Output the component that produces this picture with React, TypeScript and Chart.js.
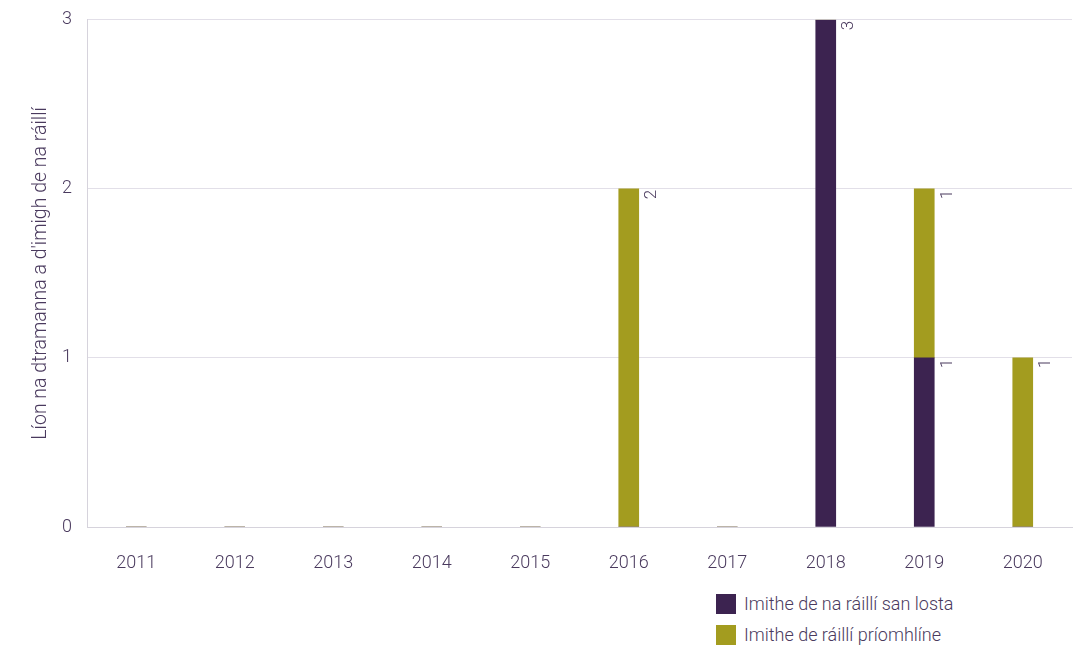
import React, { useEffect, useRef } from "react";
import { Chart, registerables } from "chart.js";

Chart.register(...registerables);

const years = ["2011", "2012", "2013", "2014", "2015", "2016", "2017", "2018", "2019", "2020"];
const sidingValues = [0, 0, 0, 0, 0, 0, 0, 3, 1, 0];
const mainlineValues = [0, 0, 0, 0, 0, 2, 0, 0, 1, 1];
const seriesNames = ["Imithe de na ráillí san losta", "Imithe de ráillí príomhlíne"];
const yTicks = [0, 1, 2, 3];
const yTitle = "Líon na dtramanna a d'imigh de na ráillí";

const PURPLE = "#3c2350";
const OLIVE = "#a39c1f";
const TEXT = "#4a3a5e";
const GRID = "#e2dfe8";
const FONT = "Roboto, 'DejaVu Sans', sans-serif";

const labelPlugin = {
  id: "rotLabels",
  afterDatasetsDraw(chart: any) {
    const ctx = chart.ctx;
    ctx.save();
    ctx.fillStyle = TEXT;
    ctx.font = `300 17px ${FONT}`;
    chart.data.datasets.forEach((ds: any, di: number) => {
      const meta = chart.getDatasetMeta(di);
      meta.data.forEach((bar: any, i: number) => {
        const v = ds.data[i];
        if (!v) return;
        const top = Math.min(bar.y, bar.base);
        const x = bar.x + bar.width / 2 + 13;
        ctx.save();
        ctx.translate(x, top + 1);
        ctx.rotate(-Math.PI / 2);
        ctx.textAlign = "right";
        ctx.textBaseline = "middle";
        ctx.fillText(String(v), 0, 0);
        ctx.restore();
      });
    });
    ctx.restore();
  },
};

function ChartBox() {
  const ref = useRef<HTMLCanvasElement | null>(null);
  useEffect(() => {
    if (!ref.current) return;
    const chart = new Chart(ref.current, {
      type: "bar",
      data: {
        labels: years,
        datasets: [
          { label: seriesNames[0], data: sidingValues, backgroundColor: PURPLE, barThickness: 20 },
          { label: seriesNames[1], data: mainlineValues, backgroundColor: OLIVE, barThickness: 20 },
        ],
      },
      options: {
        animation: false,
        responsive: false,
        maintainAspectRatio: false,
        layout: { padding: { top: 4, right: 2, left: 0, bottom: 0 } },
        plugins: { legend: { display: false }, tooltip: { enabled: false } },
        scales: {
          x: {
            stacked: true,
            grid: { display: false, drawTicks: false },
            border: { color: "#d6d3dc", width: 1 },
            ticks: { color: TEXT, font: { family: FONT, size: 18, weight: "300" }, padding: 26 },
            afterFit(scale: any) { scale.height = 53; },
          },
          y: {
            stacked: true,
            min: 0,
            max: 3,
            afterBuildTicks(scale: any) { scale.ticks = yTicks.map((v) => ({ value: v })); },
            grid: { color: GRID, drawTicks: false },
            border: { color: "#d6d3dc", width: 1 },
            ticks: { color: TEXT, font: { family: FONT, size: 18, weight: "300" }, padding: 15 },
            title: { display: true, text: yTitle, color: TEXT, font: { family: FONT, size: 19.5, weight: "300" }, padding: { top: 29, bottom: 0 } },
            afterFit(scale: any) { scale.width = 87; },
          },
        },
      },
      plugins: [labelPlugin],
    });
    return () => chart.destroy();
  }, []);
  return <canvas ref={ref} width={1074} height={586} style={{ display: "block", marginTop: -6 }} />;
}

export default function App() {
  const colors = [PURPLE, OLIVE];
  return (
    <div style={{ position: "fixed", left: 0, top: 0, width: 1074, height: 646, background: "#fff", fontFamily: FONT, overflow: "hidden" }}>
      <ChartBox />
      <div style={{ position: "absolute", left: 716, top: 588 }}>
        {seriesNames.map((n, i) => (
          <div key={n} style={{ display: "flex", alignItems: "center", height: 31 }}>
            <span style={{ width: 20, height: 20, background: colors[i], display: "inline-block", marginRight: 8 }} />
            <span style={{ color: TEXT, fontSize: 18, fontWeight: 300 }}>{n}</span>
          </div>
        ))}
      </div>
    </div>
  );
}
